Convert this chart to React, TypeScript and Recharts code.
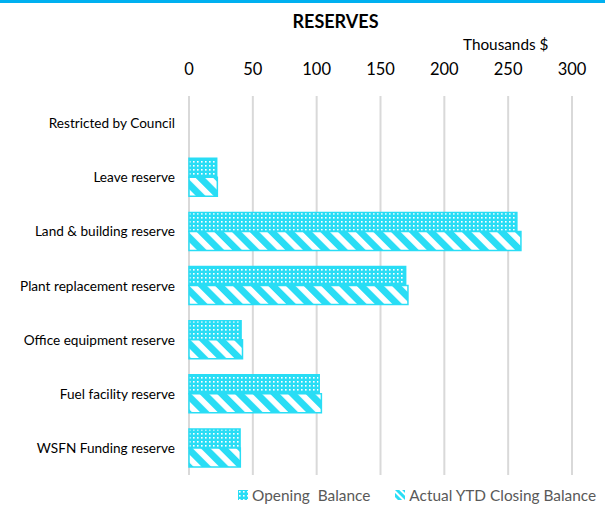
import React from 'react';
import { BarChart, Bar, XAxis, YAxis, CartesianGrid, Legend } from 'recharts';

const categories = [
  'Restricted by Council',
  'Leave reserve',
  'Land & building reserve',
  'Plant replacement reserve',
  'Office equipment reserve',
  'Fuel facility reserve',
  'WSFN Funding reserve',
];
const openingBalance = [0, 21.7, 256.8, 169.7, 40.8, 102, 40];
const closingBalance = [0, 22.2, 260, 171.5, 41.9, 103.7, 40.2];
const xTicks = [0, 50, 100, 150, 200, 250, 300];

const data = categories.map((name, i) => ({
  name,
  opening: openingBalance[i],
  closing: closingBalance[i],
}));

const CYAN = '#29DDF5';
const FONT = 'Lato, "Open Sans", sans-serif';

const XTick = (props: any) => {
  const { x, payload } = props;
  return (
    <text x={x} y={75} textAnchor="middle" fontSize={16.5} fill="#000" fontFamily={FONT}>
      {payload.value}
    </text>
  );
};

const YTick = (props: any) => {
  const { x, y, payload } = props;
  return (
    <text x={x} y={y} dy={5} textAnchor="end" fontSize={13.6} fill="#000" fontFamily={FONT}>
      {payload.value}
    </text>
  );
};

const LegendContent = () => (
  <div style={{ display: 'flex', justifyContent: 'flex-start', paddingLeft: 238, fontFamily: FONT, fontSize: 15.4, color: '#595959', whiteSpace: 'nowrap', width: 605, boxSizing: 'border-box' }}>
    <span style={{ display: 'flex', alignItems: 'center', flexShrink: 0 }}>
      <svg width={10} height={10} style={{ marginRight: 4 }}>
        <rect x={0} y={0} width={10} height={10} fill="url(#dotsPat)" />
      </svg>
      <span style={{ whiteSpace: 'pre' }}>Opening  Balance</span>
    </span>
    <span style={{ display: 'flex', alignItems: 'center', marginLeft: 25, flexShrink: 0 }}>
      <svg width={10} height={10} style={{ marginRight: 4 }}>
        <rect x={0} y={0} width={10} height={10} fill="url(#diagPatSmall)" />
      </svg>
      <span style={{ whiteSpace: 'nowrap' }}>Actual YTD Closing Balance</span>
    </span>
  </div>
);

export default function App() {
  return (
    <div style={{ position: 'absolute', left: 0, top: 0, width: 605, height: 517, background: '#fff', overflow: 'hidden' }}>
      <svg width={0} height={0} style={{ position: 'absolute' }}>
        <defs>
          <pattern id="dotsPat" patternUnits="userSpaceOnUse" width={4} height={4}>
            <rect x={0} y={0} width={4} height={4} fill={CYAN} />
            <rect x={1} y={1} width={1.6} height={1.6} fill="#fff" />
          </pattern>
          <pattern id="diagPat" patternUnits="userSpaceOnUse" width={12.5} height={12.5} patternTransform="rotate(-45)">
            <rect x={0} y={0} width={12.5} height={12.5} fill="#fff" />
            <rect x={0} y={0} width={6.8} height={12.5} fill={CYAN} />
          </pattern>
          <pattern id="diagPatSmall" patternUnits="userSpaceOnUse" width={5} height={5} patternTransform="rotate(-45)">
            <rect x={0} y={0} width={5} height={5} fill="#fff" />
            <rect x={0} y={0} width={3} height={5} fill={CYAN} />
          </pattern>
        </defs>
      </svg>
      <div style={{ position: 'absolute', left: 0, top: 0, width: 605, height: 3, background: '#00B0F0' }} />
      <div style={{ position: 'absolute', left: 0, width: 671, top: 10, textAlign: 'center', fontFamily: FONT, fontWeight: 'bold', fontSize: 18, color: '#000' }}>
        RESERVES
      </div>
      <div style={{ position: 'absolute', left: 463, top: 35, fontFamily: FONT, fontSize: 15.3, color: '#000' }}>
        Thousands $
      </div>
      <BarChart
        width={605}
        height={517}
        data={data}
        layout="vertical"
        margin={{ top: 60, right: 33, bottom: 12, left: 0 }}
        barCategoryGap="15%"
        barGap={0}
      >
        <CartesianGrid vertical horizontal={false} stroke="#D9D9D9" strokeWidth={2} />
        <XAxis
          type="number"
          orientation="top"
          domain={[0, 300]}
          ticks={xTicks}
          height={36}
          axisLine={false}
          tickLine={false}
          tick={<XTick />}
          interval={0}
        />
        <YAxis
          type="category"
          dataKey="name"
          width={189}
          axisLine={false}
          tickLine={false}
          tickMargin={8}
          tick={<YTick />}
          interval={0}
        />
        <Legend verticalAlign="bottom" height={30} content={<LegendContent />} wrapperStyle={{ bottom: 1, left: 0, width: 605 }} />
        <Bar dataKey="opening" fill="url(#dotsPat)" stroke={CYAN} strokeWidth={1.5} isAnimationActive={false} />
        <Bar dataKey="closing" fill="url(#diagPat)" stroke={CYAN} strokeWidth={1.5} isAnimationActive={false} />
      </BarChart>
    </div>
  );
}
